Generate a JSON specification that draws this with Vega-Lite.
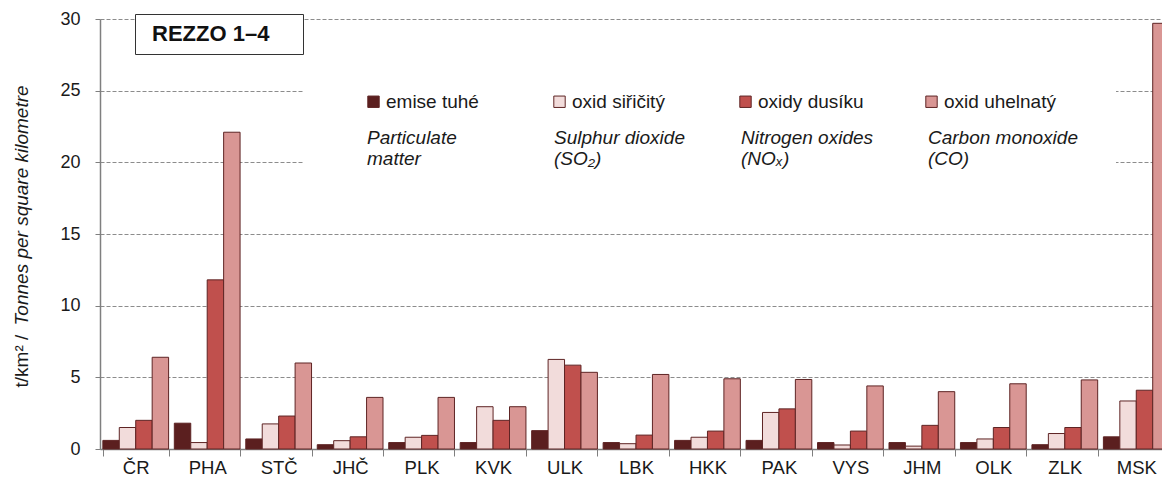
{
  "$schema": "https://vega.github.io/schema/vega-lite/v6.json",
  "width": 1072,
  "height": 430,
  "autosize": "none",
  "padding": {"left": 100, "top": 19, "right": 0, "bottom": 34},
  "datasets": {
    "emise": [
      {"r": "ČR", "emise tuhé": 0.6, "oxid siřičitý": 1.5, "oxidy dusíku": 2.0, "oxid uhelnatý": 6.4},
      {"r": "PHA", "emise tuhé": 1.8, "oxid siřičitý": 0.45, "oxidy dusíku": 11.8, "oxid uhelnatý": 22.1},
      {"r": "STČ", "emise tuhé": 0.7, "oxid siřičitý": 1.75, "oxidy dusíku": 2.3, "oxid uhelnatý": 6.0},
      {"r": "JHČ", "emise tuhé": 0.3, "oxid siřičitý": 0.58, "oxidy dusíku": 0.85, "oxid uhelnatý": 3.6},
      {"r": "PLK", "emise tuhé": 0.45, "oxid siřičitý": 0.82, "oxidy dusíku": 0.95, "oxid uhelnatý": 3.6},
      {"r": "KVK", "emise tuhé": 0.45, "oxid siřičitý": 2.95, "oxidy dusíku": 2.0, "oxid uhelnatý": 2.95},
      {"r": "ULK", "emise tuhé": 1.28, "oxid siřičitý": 6.25, "oxidy dusíku": 5.85, "oxid uhelnatý": 5.35},
      {"r": "LBK", "emise tuhé": 0.45, "oxid siřičitý": 0.37, "oxidy dusíku": 0.97, "oxid uhelnatý": 5.2},
      {"r": "HKK", "emise tuhé": 0.6, "oxid siřičitý": 0.82, "oxidy dusíku": 1.25, "oxid uhelnatý": 4.9},
      {"r": "PAK", "emise tuhé": 0.6, "oxid siřičitý": 2.55, "oxidy dusíku": 2.8, "oxid uhelnatý": 4.85},
      {"r": "VYS", "emise tuhé": 0.45, "oxid siřičitý": 0.28, "oxidy dusíku": 1.25, "oxid uhelnatý": 4.4},
      {"r": "JHM", "emise tuhé": 0.45, "oxid siřičitý": 0.2, "oxidy dusíku": 1.65, "oxid uhelnatý": 4.0},
      {"r": "OLK", "emise tuhé": 0.45, "oxid siřičitý": 0.7, "oxidy dusíku": 1.5, "oxid uhelnatý": 4.55},
      {"r": "ZLK", "emise tuhé": 0.3, "oxid siřičitý": 1.08, "oxidy dusíku": 1.5, "oxid uhelnatý": 4.82},
      {"r": "MSK", "emise tuhé": 0.85, "oxid siřičitý": 3.35, "oxidy dusíku": 4.1, "oxid uhelnatý": 29.7}
    ],
    "nazvy": [
      {"p": "emise tuhé", "en": "Particulate matter", "src": "REZZO 1–4"},
      {"p": "oxid siřičitý", "en": "Sulphur dioxide (SO₂)", "src": "REZZO 1–4"},
      {"p": "oxidy dusíku", "en": "Nitrogen oxides (NOₓ)", "src": "REZZO 1–4"},
      {"p": "oxid uhelnatý", "en": "Carbon monoxide (CO)", "src": "REZZO 1–4"}
    ]
  },
  "data": {"name": "emise"},
  "transform": [
    {"fold": ["emise tuhé", "oxid siřičitý", "oxidy dusíku", "oxid uhelnatý"], "as": ["p", "v"]},
    {"lookup": "p", "from": {"data": {"name": "nazvy"}, "key": "p", "fields": ["en", "src"]}}
  ],
  "layer": [
    {
      "mark": {"type": "bar", "stroke": "#5e2424"},
      "encoding": {
        "x": {
          "field": "r", "type": "nominal",
          "sort": ["ČR", "PHA", "STČ", "JHČ", "PLK", "KVK", "ULK", "LBK", "HKK", "PAK", "VYS", "JHM", "OLK", "ZLK", "MSK"],
          "scale": {"paddingInner": 0.08, "paddingOuter": 0.04},
          "axis": {
            "title": null, "labelAngle": 0, "labelFontSize": 18.5, "labelColor": "#1a1a1a",
            "tickBand": "extent", "tickSize": 7, "tickColor": "#7f7f7f",
            "domainColor": "#7f7f7f", "domainWidth": 1.5, "labelPadding": 2, "grid": false
          }
        },
        "xOffset": {
          "field": "p", "type": "nominal",
          "sort": ["emise tuhé", "oxid siřičitý", "oxidy dusíku", "oxid uhelnatý"],
          "scale": {"paddingInner": 0, "paddingOuter": 0}
        },
        "y": {
          "field": "v", "type": "quantitative",
          "scale": {"domain": [0, 30], "nice": false},
          "axis": {
            "orient": "left", "title": "t/km² /",
            "values": [0, 5, 10, 15, 20, 25, 30],
            "grid": true, "gridDash": [4, 2], "gridColor": "#8c8c8c",
            "domainColor": "#7f7f7f", "domainWidth": 1.5, "tickColor": "#7f7f7f", "tickSize": 5,
            "labelFontSize": 18, "labelPadding": 15, "labelColor": "#1a1a1a",
            "titleFontSize": 19, "titleFontWeight": "normal", "titleColor": "#1a1a1a",
            "titleX": -79, "titleY": 368, "titleAngle": 270, "titleAlign": "left", "titleBaseline": "middle"
          }
        },
        "color": {
          "field": "p", "type": "nominal",
          "scale": {
            "domain": ["emise tuhé", "oxid siřičitý", "oxidy dusíku", "oxid uhelnatý"],
            "range": ["#5b1f1f", "#f2dcdb", "#c0504d", "#d99694"]
          },
          "legend": {
            "orient": "none", "legendX": 204, "legendY": 13, "direction": "horizontal", "columns": 4,
            "title": null, "fillColor": "white", "padding": 60,
            "symbolType": "square", "symbolSize": 130, "symbolStrokeColor": "#5e2424", "symbolStrokeWidth": 1,
            "labelFontSize": 19, "labelColor": "#1a1a1a", "labelOffset": 3, "labelLimit": 300,
            "columnPadding": 52, "gridAlign": "all", "zindex": 1
          }
        },
        "opacity": {
          "field": "en", "type": "ordinal",
          "scale": {
            "domain": ["Particulate matter", "Sulphur dioxide (SO₂)", "Nitrogen oxides (NOₓ)", "Carbon monoxide (CO)"],
            "range": [1, 1]
          },
          "legend": {
            "orient": "none", "legendX": 248, "legendY": 100, "direction": "horizontal", "columns": 4,
            "title": null, "symbolSize": 0, "symbolStrokeWidth": 0, "symbolOpacity": 0,
            "labelOffset": 0, "labelFontSize": 19, "labelFontStyle": "italic", "labelColor": "#1a1a1a",
            "labelBaseline": "top", "labelLimit": 300, "columnPadding": 18, "gridAlign": "all", "zindex": 2,
            "labelExpr": "datum.label == 'Particulate matter' ? ['Particulate', 'matter'] : split(replace(datum.label, ' (', '|('), '|')"
          }
        },
        "strokeWidth": {
          "field": "src", "type": "ordinal",
          "scale": {"range": [1, 1]},
          "legend": {
            "orient": "none", "legendX": 35, "legendY": -5, "title": null,
            "symbolSize": 0, "symbolStrokeWidth": 0, "symbolOpacity": 0, "labelOffset": -14,
            "labelFontSize": 22, "labelFontWeight": "bold", "labelColor": "#111111", "labelLimit": 400,
            "strokeColor": "#333333", "fillColor": "white", "padding": 9, "zindex": 3,
            "labelExpr": "datum.label + '\u00a0\u00a0\u00a0\u00a0\u200b'"
          }
        }
      }
    },
    {
      "mark": {"type": "rule", "strokeOpacity": 0},
      "encoding": {
        "y": {
          "datum": 0, "type": "quantitative",
          "axis": {
            "orient": "left", "title": "Tonnes per square kilometre",
            "labels": false, "ticks": false, "domain": false, "grid": false,
            "titleFontSize": 19, "titleFontWeight": "normal", "titleFontStyle": "italic", "titleColor": "#1a1a1a",
            "titleX": -79, "titleY": 306, "titleAngle": 270, "titleAlign": "left", "titleBaseline": "middle"
          }
        }
      }
    }
  ],
  "resolve": {"axis": {"y": "independent"}},
  "config": {
    "font": "Liberation Sans",
    "view": {"stroke": null},
    "style": {"guide-label": {"lineHeight": 21}}
  }
}
